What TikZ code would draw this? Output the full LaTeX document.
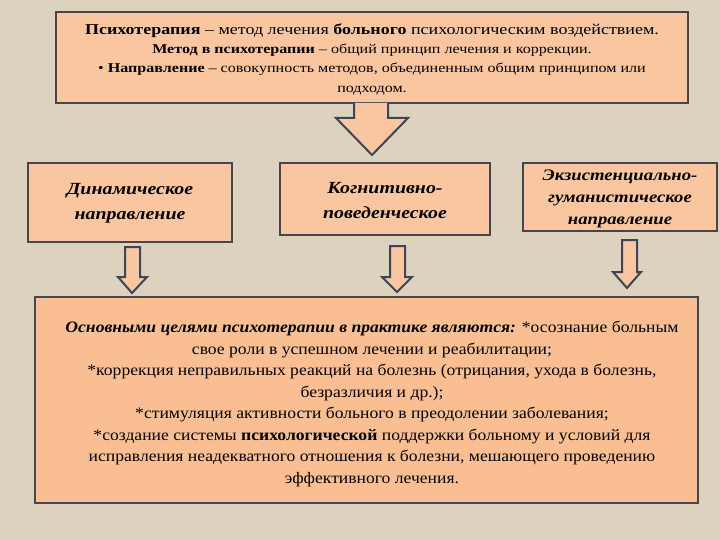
\documentclass[tikz,border=0pt]{standalone}
\usepackage{fontspec}
\setmainfont{Liberation Serif}
\newfontfamily\topf[FakeStretch=1.2]{Liberation Serif}
\newfontfamily\botf[FakeStretch=1.1]{Liberation Serif}
\newfontfamily\boxf[FakeStretch=1.17]{Liberation Serif}
\definecolor{bgc}{HTML}{DCD2BE}
\definecolor{peach}{HTML}{F9C6A0}
\definecolor{peachb}{HTML}{F9BF93}
\definecolor{edge}{HTML}{46464E}
\definecolor{arr}{HTML}{3C4658}
\begin{document}
\begin{tikzpicture}[x=1pt,y=-1pt,
  panel/.style={draw=edge,line width=2pt,fill=peach},
  arrowshape/.style={draw=arr,line width=2pt,fill=peach,line join=miter},
  lbl/.style={align=center,inner sep=0pt}]
\useasboundingbox (0,0) rectangle (720,540);
\fill[bgc] (0,0) rectangle (720,540);
% top box
\draw[panel] (56,12) rectangle (688,103);
\node[lbl,font=\topf\fontsize{13.4}{19.3}\selectfont] (top) at (372,59)
 {{\fontsize{15}{19.3}\selectfont\textbf{Психотерапия} – метод лечения \textbf{больного} психологическим воздействием.}\\
  \textbf{Метод в психотерапии} – общий принцип лечения и коррекции.\\
  • \textbf{Направление} – совокупность методов, объединенным общим принципом или\\
  подходом.};
% big arrow
\draw[arrowshape] (354,103) -- (354,118) -- (336,118) -- (372,155) -- (408,118) -- (388,118) -- (388,103);
% three boxes
\draw[panel] (28,163) rectangle (232,242);
\node[lbl,font=\boxf\fontsize{17}{25}\selectfont\bfseries\itshape] (dyn) at (130,203) {Динамическое\\направление};
\draw[panel] (280,163) rectangle (490,235);
\node[lbl,font=\boxf\fontsize{17}{25}\selectfont\bfseries\itshape] (cog) at (385,201) {Когнитивно-\\поведенческое};
\draw[panel] (523,163) rectangle (717,231);
\node[lbl,font=\boxf\fontsize{16}{22}\selectfont\bfseries\itshape] (ex) at (620,199) {Экзистенциально-\\гуманистическое\\направление};
% small arrows
\draw[arrowshape] (125,247) -- (125,277) -- (118,277) -- (132,293) -- (147,277) -- (140,277) -- (140,247) -- cycle;
\draw[arrowshape] (390,246) -- (390,277) -- (382,277) -- (397,292) -- (412,277) -- (405,277) -- (405,246) -- cycle;
\draw[arrowshape] (622,240) -- (622,272) -- (613,272) -- (627,288) -- (641,272) -- (637,272) -- (637,240) -- cycle;
% bottom box
\draw[panel,fill=peachb] (35,297) rectangle (698,503);
\node[lbl,font=\botf\fontsize{16}{21.5}\selectfont] (goals) at (372,404)
 {\textbf{\textit{Основными целями психотерапии в практике являются:}} *осознание больным\\
  свое роли в успешном лечении и реабилитации;\\
  *коррекция неправильных реакций на болезнь (отрицания, ухода в болезнь,\\
  безразличия и др.);\\
  *стимуляция активности больного в преодолении заболевания;\\
  *создание системы \textbf{психологической} поддержки больному и условий для\\
  исправления неадекватного отношения к болезни, мешающего проведению\\
  эффективного лечения.};
\end{tikzpicture}
\end{document}
